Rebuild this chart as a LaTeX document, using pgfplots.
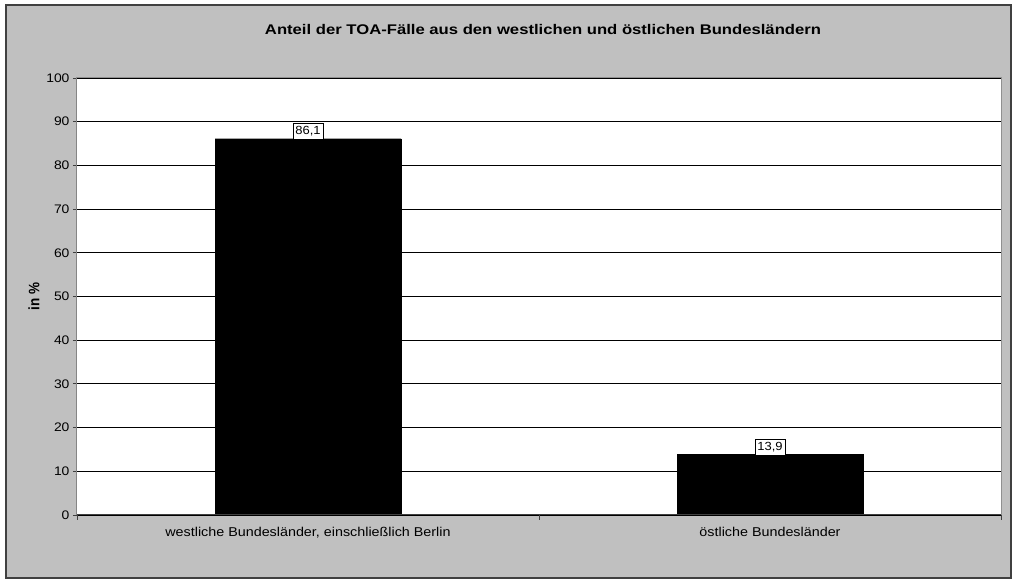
\documentclass[border=0pt]{standalone}
\usepackage{graphicx}
\usepackage{pgfplots}
\pgfplotsset{compat=1.18}
\usepackage{fontspec}
\setmainfont{Liberation Sans}
\definecolor{bggray}{HTML}{C0C0C0}
\definecolor{frame}{HTML}{404040}
\definecolor{plotedge}{HTML}{909090}
\begin{document}
\begin{tikzpicture}[x=1pt,y=1pt]
\path[use as bounding box] (0,0) rectangle (1013,581);
\draw[fill=bggray, draw=frame, line width=1.3pt] (6,3) rectangle (1011,576);
\node[font=\bfseries\fontsize{14}{16}\selectfont, anchor=center] at (543,551) {\scalebox{1.19}[1]{Anteil der TOA-Fälle aus den westlichen und östlichen Bundesländern}};
\begin{axis}[
  at={(77pt,66pt)}, anchor=south west,
  scale only axis, width=924pt, height=437pt,
  xmin=-0.5, xmax=1.5, ymin=0, ymax=100,
  ytick={0,10,...,100},
  xtick={0,1},
  xticklabels={{\scalebox{1.12}[1]{westliche Bundesländer, einschließlich Berlin}},{\scalebox{1.12}[1]{östliche Bundesländer}}},
  yticklabel={\scalebox{1.12}[1]{\pgfmathprintnumber{\tick}}},
  minor xtick={-0.5,0.5,1.5},
  major x tick style={draw=none},
  minor tick length=5pt,
  major tick length=4pt,
  tick align=outside,
  tick style={frame, line width=0.8pt},
  /pgf/number format/assume math mode=true,
  yticklabel style={font=\fontsize{12.4}{14}\selectfont},
  xticklabel style={font=\fontsize{12.8}{15}\selectfont, yshift=-5pt},
  ylabel={\scalebox{1}[1.12]{in \%}},
  ylabel style={font=\bfseries\fontsize{13.5}{15}\selectfont, at={(axis description cs:-0.0465,0.5)}, anchor=center},
  axis background/.style={fill=white},
  axis line style={plotedge, line width=1pt},
  ymajorgrids, grid style={black, line width=0.8pt},
  xtick pos=bottom, ytick pos=left,
  ybar, bar width=186pt,
  nodes near coords={\scalebox{1.1}[1]{\pgfmathprintnumber[use comma,fixed,fixed zerofill,precision=1,assume math mode=true]{\pgfplotspointmeta}}},
  every node near coord/.append style={font=\fontsize{11.8}{13}\selectfont, draw=black, fill=white, inner xsep=2.5pt, inner ysep=3.2pt, anchor=south, yshift=-1pt},
]
\addplot[fill=black, draw=black] coordinates {(0,86.1) (1,13.9)};
\draw[frame, line width=1pt] (rel axis cs:0,1) -- (rel axis cs:0,0) -- (rel axis cs:1,0);
\end{axis}
\end{tikzpicture}
\end{document}
